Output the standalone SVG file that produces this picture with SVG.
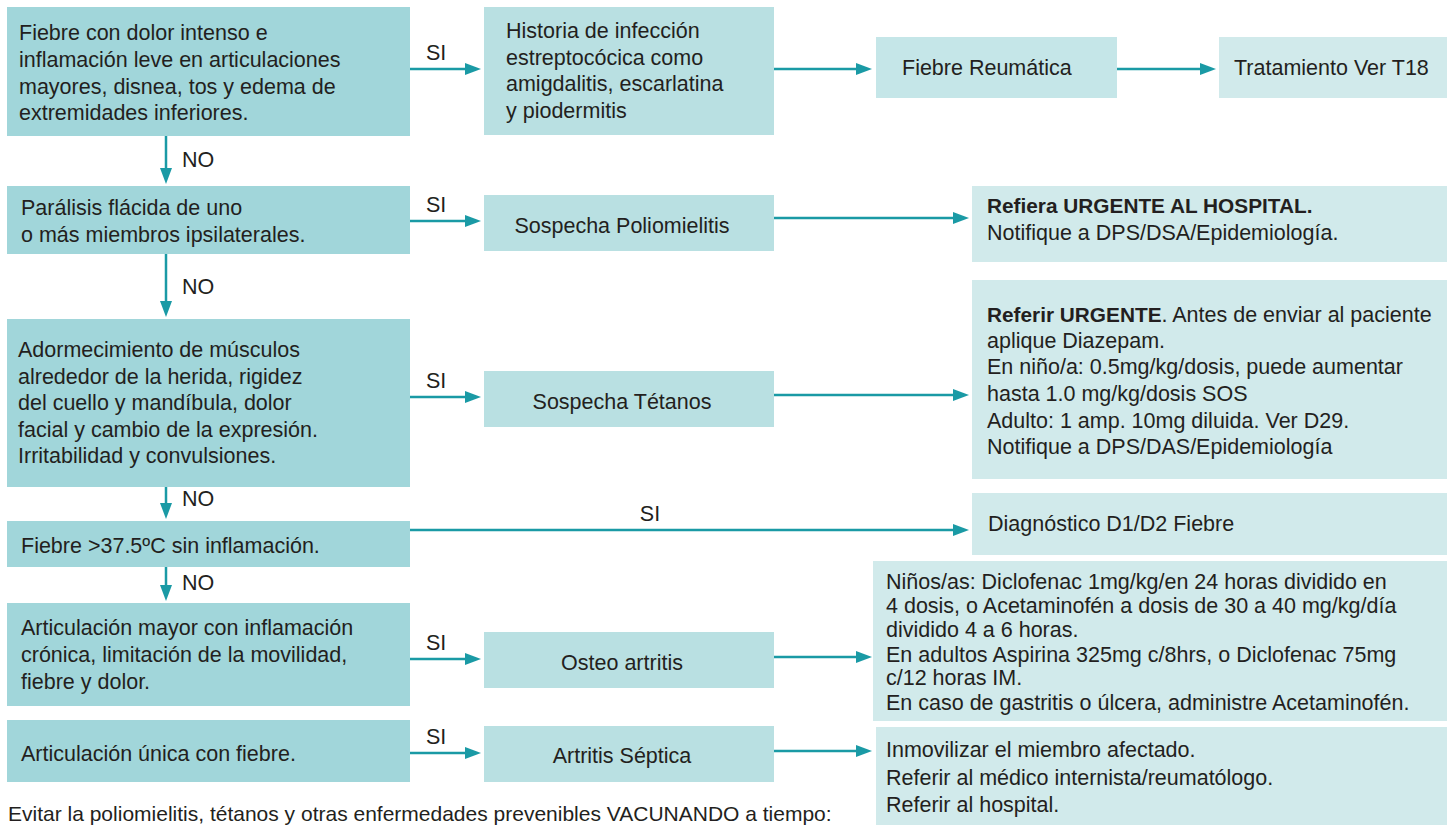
<svg xmlns="http://www.w3.org/2000/svg" width="1447" height="825" viewBox="0 0 1447 825">
<style>
text{font-family:"Liberation Sans",Arial,sans-serif;font-size:21.5px;fill:#231f20}
.b{font-weight:bold;font-size:20.8px}
.m{text-anchor:middle}
.ft{font-size:21px}
.l{fill:#a1d6da}
.c{fill:#b9e0e2}
.f{fill:#c5e6e8}
.r{fill:#d1eaeb}
.a{stroke:#1a9aa5;stroke-width:2.5;fill:none;marker-end:url(#ah)}
</style>
<defs>
<marker id="ah" markerUnits="userSpaceOnUse" markerWidth="16" markerHeight="12" refX="8" refY="6" orient="auto">
<path d="M0,0 L16,6 L0,12 Z" fill="#1a9aa5"/>
</marker>
</defs>
<rect width="1447" height="825" fill="#ffffff"/>

<g id="connectors">
<path class="a" d="M410,69 H473"/>
<path class="a" d="M774,69 H864"/>
<path class="a" d="M1117,69 H1208"/>
<path class="a" d="M166,136 V176"/>
<path class="a" d="M410,221 H473"/>
<path class="a" d="M774,218 H961"/>
<path class="a" d="M166,254 V309"/>
<path class="a" d="M410,397 H473"/>
<path class="a" d="M774,395 H961"/>
<path class="a" d="M166,487 V511"/>
<path class="a" d="M410,530 H961"/>
<path class="a" d="M166,567 V593"/>
<path class="a" d="M410,659 H473"/>
<path class="a" d="M774,657 H864"/>
<path class="a" d="M410,753 H473"/>
<path class="a" d="M774,751 H864"/>
<text x="426" y="60">SI</text>
<text x="182" y="167">NO</text>
<text x="426" y="212">SI</text>
<text x="182" y="294">NO</text>
<text x="426" y="388">SI</text>
<text x="182" y="506">NO</text>
<text x="650" y="521" class="m">SI</text>
<text x="182" y="590">NO</text>
<text x="426" y="650">SI</text>
<text x="426" y="744">SI</text>
</g>

<g id="q1">
<rect class="l" x="7" y="7" width="403" height="129"/>
<text x="19" y="40">Fiebre con dolor intenso e</text>
<text x="19" y="67">inflamación leve en articulaciones</text>
<text x="19" y="94">mayores, disnea, tos y edema de</text>
<text x="19" y="120">extremidades inferiores.</text>
</g>
<g id="historia">
<rect class="c" x="484" y="7" width="290" height="128"/>
<text x="506" y="38">Historia de infección</text>
<text x="506" y="65">estreptocócica como</text>
<text x="506" y="91">amigdalitis, escarlatina</text>
<text x="506" y="118">y piodermitis</text>
</g>
<g id="fiebre-reumatica">
<rect class="f" x="876" y="37" width="241" height="61"/>
<text x="902" y="75">Fiebre Reumática</text>
</g>
<g id="tratamiento">
<rect class="r" x="1219" y="37" width="228" height="61"/>
<text x="1234" y="75">Tratamiento Ver T18</text>
</g>

<g id="q2">
<rect class="l" x="7" y="186" width="403" height="68"/>
<text x="21" y="215">Parálisis flácida de uno</text>
<text x="21" y="242">o más miembros ipsilaterales.</text>
</g>
<g id="polio">
<rect class="c" x="484" y="195" width="290" height="56"/>
<text x="622" y="233" class="m">Sospecha Poliomielitis</text>
</g>
<g id="r-polio">
<rect class="r" x="972" y="186" width="475" height="76"/>
<text x="987" y="213" class="b">Refiera URGENTE AL HOSPITAL.</text>
<text x="987" y="240">Notifique a DPS/DSA/Epidemiología.</text>
</g>

<g id="q3">
<rect class="l" x="7" y="319" width="403" height="168"/>
<text x="18" y="357">Adormecimiento de músculos</text>
<text x="18" y="384">alrededor de la herida, rigidez</text>
<text x="18" y="410">del cuello y mandíbula, dolor</text>
<text x="18" y="437">facial y cambio de la expresión.</text>
<text x="18" y="463">Irritabilidad y convulsiones.</text>
</g>
<g id="tetanos">
<rect class="c" x="484" y="371" width="290" height="56"/>
<text x="622" y="409" class="m">Sospecha Tétanos</text>
</g>
<g id="r-tetanos">
<rect class="r" x="972" y="280" width="475" height="199"/>
<text x="987" y="322"><tspan class="b">Referir URGENTE</tspan>. Antes de enviar al paciente</text>
<text x="987" y="348">aplique Diazepam.</text>
<text x="987" y="374">En niño/a: 0.5mg/kg/dosis, puede aumentar</text>
<text x="987" y="401">hasta 1.0 mg/kg/dosis SOS</text>
<text x="987" y="428">Adulto: 1 amp. 10mg diluida. Ver D29.</text>
<text x="987" y="454">Notifique a DPS/DAS/Epidemiología</text>
</g>

<g id="q4">
<rect class="l" x="7" y="521" width="403" height="46"/>
<text x="21" y="553">Fiebre &gt;37.5ºC sin inflamación.</text>
</g>
<g id="diagnostico">
<rect class="r" x="972" y="493" width="475" height="62"/>
<text x="988" y="531">Diagnóstico D1/D2 Fiebre</text>
</g>

<g id="q5">
<rect class="l" x="7" y="603" width="403" height="103"/>
<text x="21" y="635">Articulación mayor con inflamación</text>
<text x="21" y="662">crónica, limitación de la movilidad,</text>
<text x="21" y="689">fiebre y dolor.</text>
</g>
<g id="osteo">
<rect class="c" x="484" y="632" width="290" height="56"/>
<text x="622" y="670" class="m">Osteo artritis</text>
</g>
<g id="r-osteo">
<rect class="r" x="873" y="561" width="574" height="160"/>
<text x="886" y="589">Niños/as: Diclofenac 1mg/kg/en 24 horas dividido en</text>
<text x="886" y="613">4 dosis, o Acetaminofén a dosis de 30 a 40 mg/kg/día</text>
<text x="886" y="637">dividido 4 a 6 horas.</text>
<text x="886" y="662">En adultos Aspirina 325mg c/8hrs, o Diclofenac 75mg</text>
<text x="886" y="685">c/12 horas IM.</text>
<text x="886" y="710">En caso de gastritis o úlcera, administre Acetaminofén.</text>
</g>

<g id="q6">
<rect class="l" x="7" y="720" width="403" height="62"/>
<text x="21" y="761">Articulación única con fiebre.</text>
</g>
<g id="septica">
<rect class="c" x="484" y="726" width="290" height="56"/>
<text x="622" y="763" class="m">Artritis Séptica</text>
</g>
<g id="r-septica">
<rect class="r" x="876" y="727" width="571" height="98"/>
<text x="886" y="757">Inmovilizar el miembro afectado.</text>
<text x="886" y="785">Referir al médico internista/reumatólogo.</text>
<text x="886" y="812">Referir al hospital.</text>
</g>

<g id="footer">
<text x="8" y="821" class="ft">Evitar la poliomielitis, tétanos y otras enfermedades prevenibles VACUNANDO a tiempo:</text>
</g>
</svg>
